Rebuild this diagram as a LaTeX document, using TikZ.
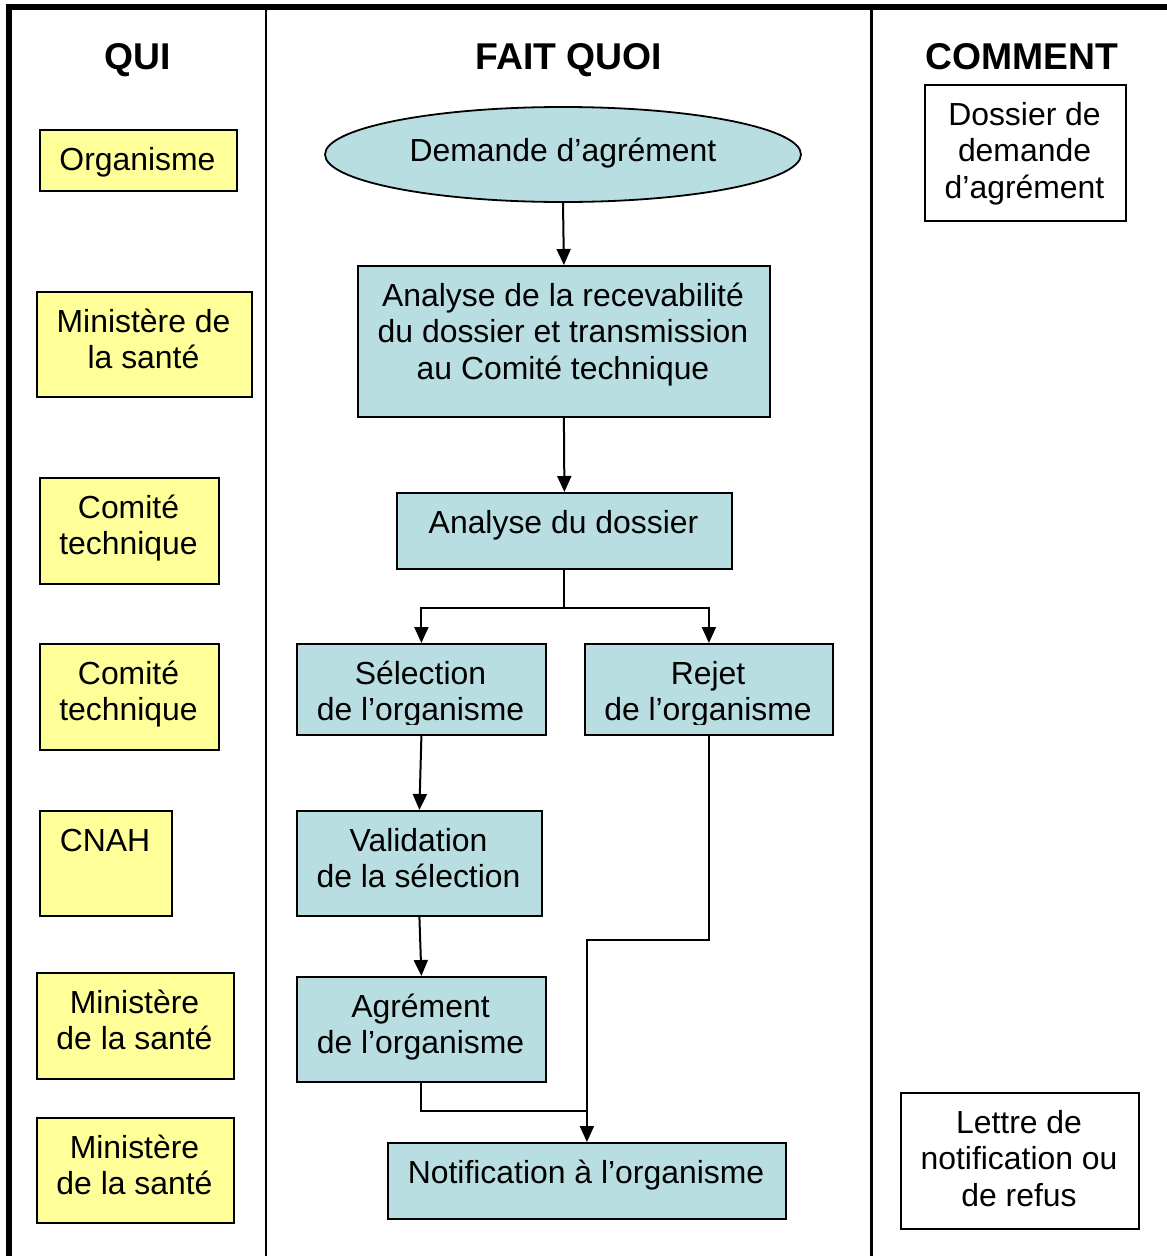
\documentclass[tikz,border=0pt]{standalone}
\usepackage{fontspec}
\setmainfont{Liberation Sans}
\usetikzlibrary{arrows.meta,shapes.geometric}
\definecolor{qblue}{RGB}{185,222,226}
\definecolor{qyellow}{RGB}{255,255,153}
\begin{document}
\begin{tikzpicture}[x=1pt,y=-1pt,
  box/.style={draw=black, line width=1.8pt, inner sep=0pt, anchor=north west},
  yelbox/.style={box, fill=qyellow},
  blubox/.style={box, fill=qblue},
  whibox/.style={box, fill=white},
  txt/.style={anchor=north, inner sep=0pt, align=center, font=\fontsize{31.9}{36.6}\selectfont},
  head/.style={anchor=base, inner sep=0pt, font=\fontsize{37.3}{40}\selectfont\bfseries},
  conn/.style={line width=2pt, draw=black},
  arr/.style={conn, -{Triangle[length=16pt,width=14pt]}},
]
\useasboundingbox (0,0) rectangle (1167,1256);
\fill[white] (0,0) rectangle (1167,1256);

% frame and column dividers
\draw[line width=6pt] (9,1262) -- (9,7) -- (1172,7);
\draw[line width=2.5pt] (266,7) -- (266,1262);
\draw[line width=3pt] (871,7) -- (871,1262);

% headers
\node[head] (hqui) at (138,69) {QUI};
\node[head] (hfait) at (569,69) {FAIT QUOI};
\node[head] (hcomm) at (1022,69) {COMMENT};

% QUI column
\node[yelbox, minimum width=197pt, minimum height=61pt] (org) at (39,129) {};
\node[txt] (org-t) at (137.5,144.4) {\strut Organisme};
\node[yelbox, minimum width=215pt, minimum height=105pt] (min1) at (36,291) {};
\node[txt] (min1-t) at (143.5,306.4) {\strut Ministère de\\la santé};
\node[yelbox, minimum width=179pt, minimum height=106pt] (com1) at (39,477) {};
\node[txt] (com1-t) at (128.5,492.4) {\strut Comité\\technique};
\node[yelbox, minimum width=179pt, minimum height=106pt] (com2) at (39,643) {};
\node[txt] (com2-t) at (128.5,658.4) {\strut Comité\\technique};
\node[yelbox, minimum width=132pt, minimum height=105pt] (cnah) at (39,810) {};
\node[txt] (cnah-t) at (105,825.4) {\strut CNAH};
\node[yelbox, minimum width=197pt, minimum height=106pt] (min2) at (36,972) {};
\node[txt] (min2-t) at (134.5,987.4) {\strut Ministère\\de la santé};
\node[yelbox, minimum width=197pt, minimum height=105pt] (min3) at (36,1117) {};
\node[txt] (min3-t) at (134.5,1132.4) {\strut Ministère\\de la santé};

% FAIT QUOI column
\node[ellipse, draw=black, line width=1.8pt, fill=qblue, inner sep=0pt,
      minimum width=476pt, minimum height=95pt] (dem) at (563,154.5) {};
\node[txt] (dem-t) at (563,135.4) {\strut Demande d’agrément};
\node[blubox, minimum width=412pt, minimum height=151pt] (ana) at (357,265) {};
\node[txt] (ana-t) at (563,280.4) {\strut Analyse de la recevabilité\\du dossier et transmission\\au Comité technique};
\node[blubox, minimum width=335pt, minimum height=76pt] (dos) at (396,492) {};
\node[txt] (dos-t) at (563.5,507.4) {\strut Analyse du dossier};
\node[blubox, minimum width=249pt, minimum height=91pt] (sel) at (296,643) {};
\begin{scope}
\clip (sel.north west) rectangle ([yshift=11pt]sel.south east);
\node[txt] (sel-t) at (420.5,658.4) {\strut Sélection\\de l’organisme};
\end{scope}
\node[blubox, minimum width=248pt, minimum height=91pt] (rej) at (584,643) {};
\begin{scope}
\clip (rej.north west) rectangle ([yshift=11pt]rej.south east);
\node[txt] (rej-t) at (708,658.4) {\strut Rejet\\de l’organisme};
\end{scope}
\node[blubox, minimum width=245pt, minimum height=105pt] (val) at (296,810) {};
\node[txt] (val-t) at (418.5,825.4) {\strut Validation\\de la sélection};
\node[blubox, minimum width=249pt, minimum height=105pt] (agr) at (296,976) {};
\node[txt] (agr-t) at (420.5,991.4) {\strut Agrément\\de l’organisme};
\node[blubox, minimum width=398pt, minimum height=76pt] (noti) at (387,1142) {};
\node[txt] (noti-t) at (586,1157.4) {\strut Notification à l’organisme};

% COMMENT column
\node[whibox, minimum width=201pt, minimum height=136pt] (doss) at (924,84) {};
\node[txt] (doss-t) at (1024.5,99.4) {\strut Dossier de\\demande\\d’agrément};
\node[whibox, minimum width=238pt, minimum height=136pt] (lett) at (900,1092) {};
\node[txt] (lett-t) at (1019,1107.4) {\strut Lettre de\\notification ou\\de refus};

% connectors
\draw[arr] (dem.south) -- (ana.north);
\draw[arr] (ana.south) -- (dos.north);
\draw[conn] (dos.south) -- ++(0,38) coordinate (split);
\draw[arr] (split) -| (sel.north);
\draw[arr] (split) -| (rej.north);
\draw[arr] (sel.south) -- (val.north);
\draw[arr] (val.south) -- (agr.north);
\coordinate (join) at (586,1111);
\draw[conn] (agr.south) |- (join);
\draw[arr] (rej.south) -- ++(0,204) -| (noti.north);
\end{tikzpicture}
\end{document}
